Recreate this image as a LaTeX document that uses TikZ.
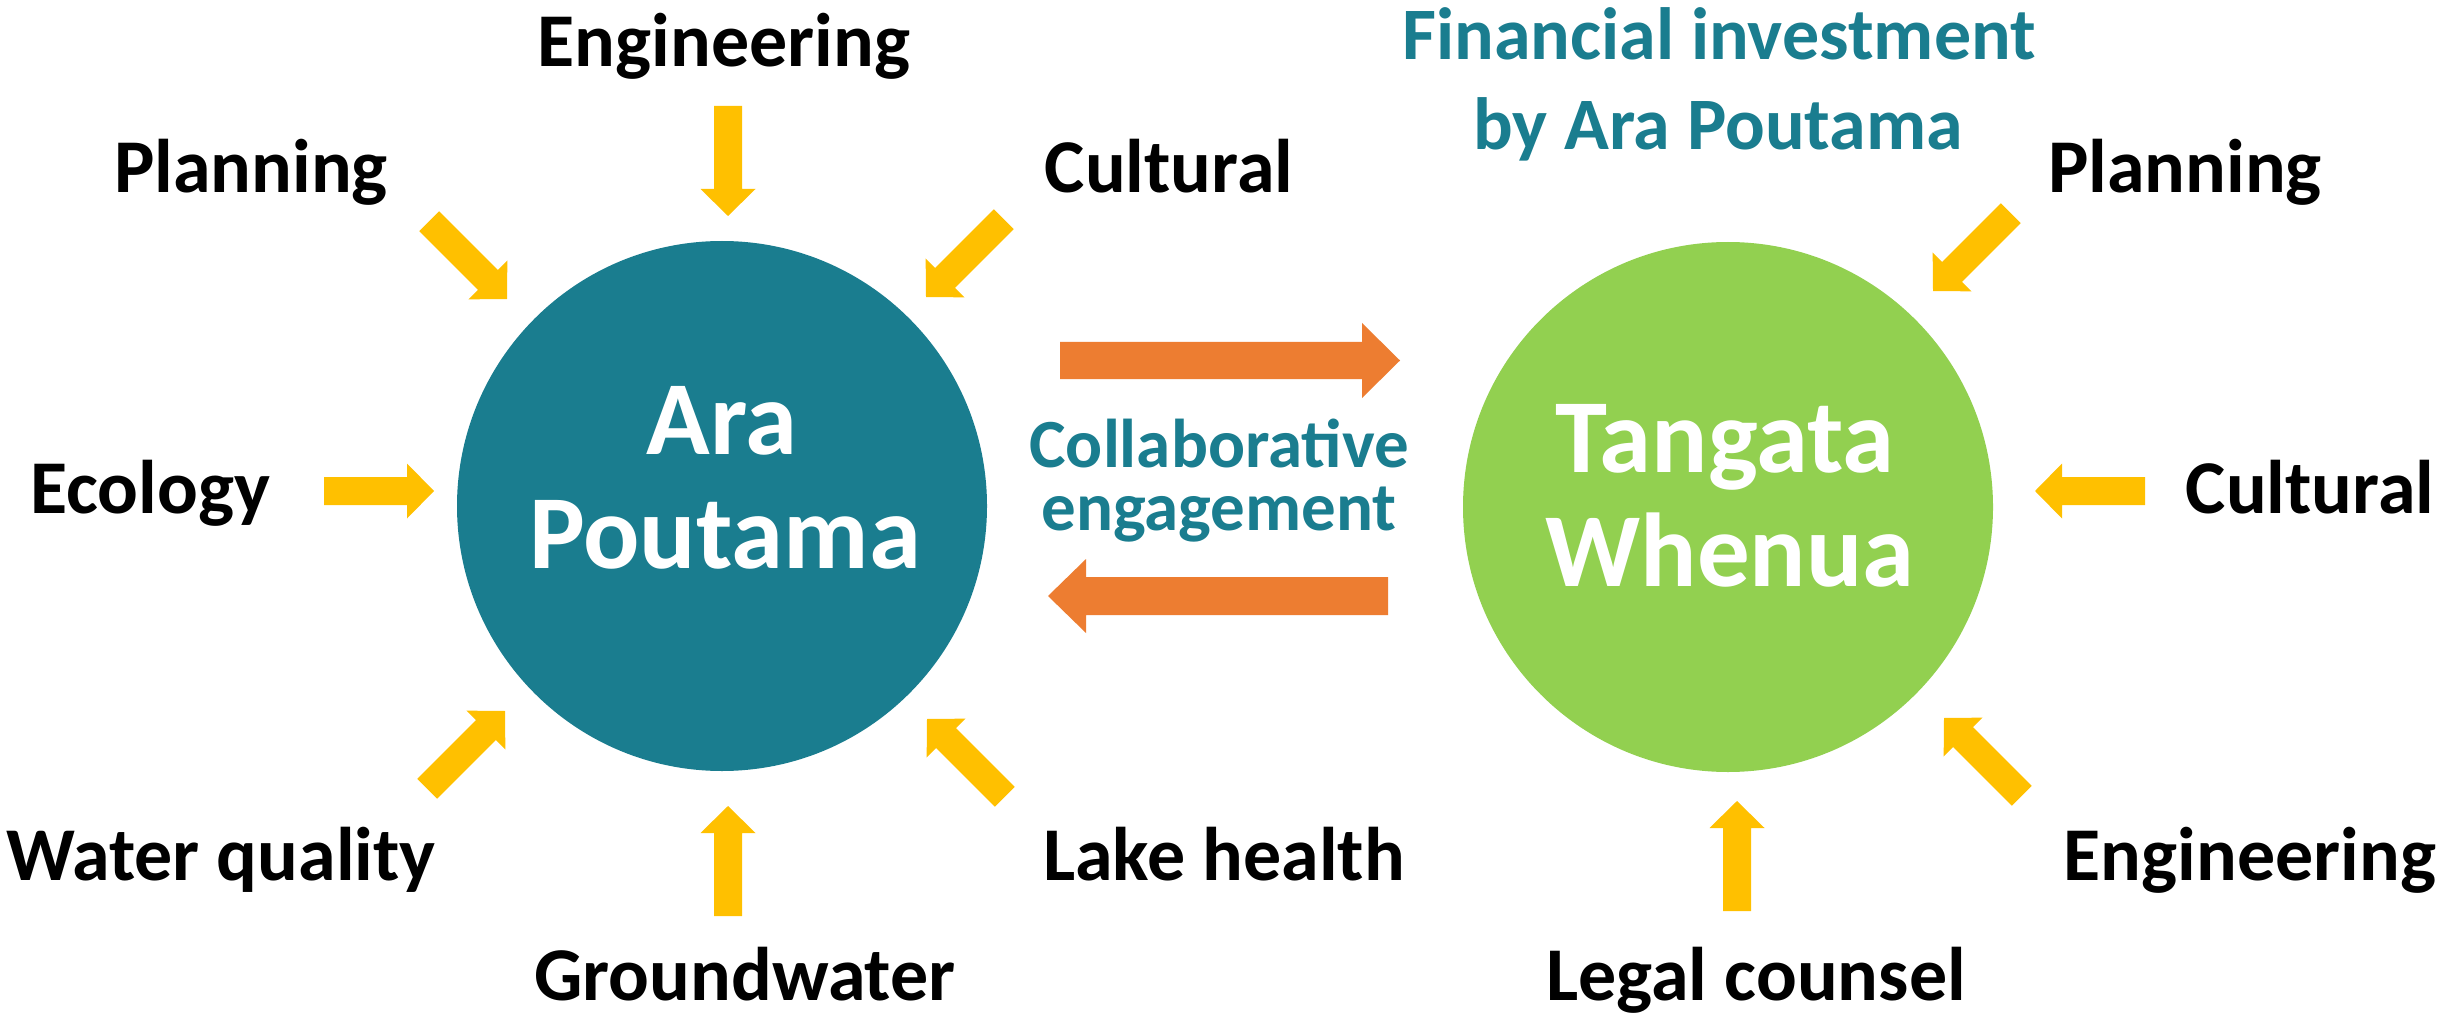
\documentclass[tikz,border=0pt]{standalone}
\usepackage{fontspec}
\setmainfont{Carlito}
\definecolor{teal1}{HTML}{1A7D8F}
\definecolor{lgreen}{HTML}{92D050}
\definecolor{gold}{HTML}{FFC000}
\definecolor{orng}{HTML}{ED7D31}
\tikzset{
  lbl/.style={font=\fontsize{76}{90}\selectfont\bfseries, text=black, anchor=base, inner sep=0pt},
  tlbl/.style={font=\fontsize{74}{90}\selectfont\bfseries, text=teal1, anchor=base, inner sep=0pt},
  clbl/.style={font=\fontsize{69}{80}\selectfont\bfseries, text=teal1, anchor=base, inner sep=0pt},
  ctext/.style={font=\fontsize{105}{115}\selectfont\bfseries, text=white, anchor=base, inner sep=0pt},
  bubble/.style={circle, minimum size=530pt, inner sep=0pt, draw=none},
  yarr/.style={fill=gold},
  oarr/.style={fill=orng},
}
% name, tip x, tip y, direction angle (counter-clockwise, as seen)
\newcommand\yarrow[4]{%
  \begin{scope}[shift={(#2,#3)}, rotate=#4]
    \coordinate (#1) at (0,0);
    \fill[yarr] (#1) -- (-27,27.5) -- (-27,14) -- (-110,14) -- (-110,-14) -- (-27,-14) -- (-27,-27.5) -- cycle;
  \end{scope}}
\begin{document}
\begin{tikzpicture}[x=1pt, y=-1pt]
\useasboundingbox (0,0) rectangle (2458,1016);
\fill[white] (0,0) rectangle (2458,1016);

% circles
\node[bubble, fill=teal1] (ara) at (722,506) {};
\node[bubble, fill=lgreen] (tw) at (1728,507) {};
\node[ctext] (ara1) at (722,454) {Ara};
\node[ctext] (ara2) at (725,568) {Poutama};
\node[ctext] (tw1) at (1725,472) {Tangata};
\node[ctext] (tw2) at (1730,586) {Whenua};

% yellow arrows, left
\yarrow{aE}{728}{216}{-90}
\yarrow{aP}{507}{299}{-45}
\yarrow{aC}{926}{297}{-135}
\yarrow{aEc}{434}{491}{0}
\yarrow{aW}{505}{711}{45}
\yarrow{aG}{728}{806}{90}
\yarrow{aL}{927}{719}{135}
% yellow arrows, right
\yarrow{bP}{1933}{291}{-135}
\yarrow{bC}{2035}{491}{180}
\yarrow{bE}{1944}{718}{135}
\yarrow{bL}{1737}{801}{90}

% orange arrows
\coordinate (o1) at (1400,360.5);
\fill[oarr] (o1) -- (1362,323) -- (1362,342) -- (1060,342) -- (1060,379) -- (1362,379) -- (1362,398) -- cycle;
\coordinate (o2) at (1048,596);
\fill[oarr] (o2) -- (1086,559) -- (1086,577) -- (1388,577) -- (1388,615) -- (1086,615) -- (1086,633) -- cycle;

% labels
\node[lbl] (lE) at (724,67) {Engineering};
\node[lbl] (lP) at (251,193) {Planning};
\node[lbl] (lC) at (1169,193) {Cultural};
\node[lbl] (lEc) at (150,513) {Ecology};
\node[lbl] (lW) at (221,880) {Water quality};
\node[lbl] (lG) at (745,1000) {Groundwater};
\node[lbl] (lL) at (1224,880) {Lake health};
\node[lbl] (rP) at (2185,193) {Planning};
\node[lbl] (rC) at (2310,513) {Cultural};
\node[lbl] (rE) at (2250,880) {Engineering};
\node[lbl] (rL) at (1756,1000) {Legal counsel};
\node[tlbl] (f1) at (1719,60) {Financial investment};
\node[tlbl] (f2) at (1718,150) {by Ara Poutama};
\node[clbl] (c1) at (1219,467) {Collaborative};
\node[clbl] (c2) at (1219,530) {engagement};
\end{tikzpicture}
\end{document}
